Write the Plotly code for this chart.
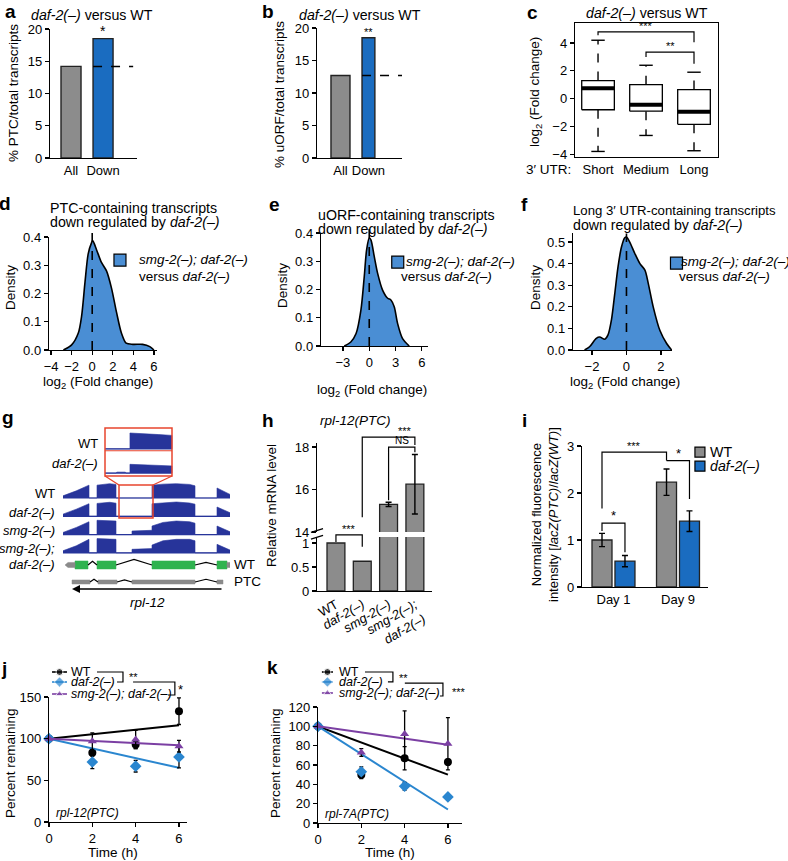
import plotly.graph_objects as go

W, H = 788, 861
FONT = "Liberation Sans"
BLUE_BAR = "#1a6cc0"
GREY_BAR = "#8c8c8c"
DENS_BLUE = "#4a8ed4"
TRACK_BLUE = "#27349a"
GREEN = "#2fb34f"
RED = "#e8452e"
J_BLUE = "#2a86cf"
PURPLE = "#7b3fa3"
TICK = 13
TXT = 13.5
TITLE = 14.2

# ---------------- data ----------------
a_labels = ["All", "Down"]
a_values = [14.2, 18.5]

b_labels = ["All", "Down"]
b_values = [12.7, 18.5]

c_labels = ["Short", "Medium", "Long"]
c_whisker_low = [-3.8, -2.65, -3.75]
c_q1 = [-0.8, -0.9, -1.85]
c_median = [0.75, -0.45, -0.95]
c_q3 = [1.3, 1.0, 0.65]
c_whisker_high = [4.2, 2.4, 1.9]

d_x = [-2.8, -2.0, -1.35, -1.03, -0.7, -0.39, -0.06, 0.05, 0.42, 0.9, 1.39, 1.87, 2.35, 2.84, 3.3, 3.97, 4.9, 5.6, 6.0]
d_y = [0, 0.018, 0.06, 0.12, 0.24, 0.34, 0.38, 0.387, 0.355, 0.31, 0.28, 0.22, 0.136, 0.06, 0.024, 0.02, 0.02, 0.012, 0]

e_x = [-2.85, -2.1, -1.5, -0.95, -0.57, -0.3, 0.0, 0.19, 0.57, 0.95, 1.52, 2.1, 2.47, 2.85, 3.23, 3.8, 4.56]
e_y = [0, 0.014, 0.044, 0.127, 0.245, 0.34, 0.382, 0.376, 0.317, 0.258, 0.198, 0.169, 0.163, 0.139, 0.08, 0.026, 0]

f_x = [-2.43, -2.14, -1.75, -1.55, -1.26, -1.07, -0.87, -0.68, -0.49, -0.29, -0.1, 0.0, 0.19, 0.49, 0.78, 1.07, 1.26, 1.55, 1.94, 2.33, 2.62]
f_y = [0, 0.015, 0.054, 0.06, 0.05, 0.07, 0.14, 0.26, 0.385, 0.477, 0.52, 0.523, 0.5, 0.446, 0.4, 0.37, 0.31, 0.2, 0.09, 0.03, 0]

# g: genome browser schematic (bp coordinates, relative coverage)
g_track_labels = ["WT", "<i>daf-2(–)</i>", "<i>smg-2(–)</i>", "<i>smg-2(–);</i>"]
g_cov_x = [0, 0, 40, 78, 78, 102, 102, 120, 140, 159, 159, 207, 207, 267, 267, 300, 340, 380, 396, 396, 462, 462, 501, 501]
g_cov_wt = [0, 0.15, 0.5, 0.9, 0, 0, 0.9, 0.95, 1.0, 0.95, 0, 0, 0, 0, 0.9, 0.97, 1.0, 0.95, 0.85, 0, 0, 0.7, 0.25, 0]
g_cov_daf = [0, 0.15, 0.5, 0.88, 0, 0, 0.9, 0.95, 0.98, 0.92, 0, 0, 0, 0, 0.88, 0.95, 1.0, 0.93, 0.85, 0, 0, 0.65, 0.25, 0]
g_cov_smg = [0, 0.15, 0.5, 0.9, 0, 0, 1.0, 1.0, 1.0, 0.95, 0, 0, 0.25, 0.3, 0.6, 0.85, 0.95, 0.9, 0.8, 0, 0, 0.6, 0.2, 0]
g_cov_smgdaf = [0, 0.15, 0.5, 0.95, 0, 0, 1.0, 1.0, 1.0, 0.95, 0, 0, 0.25, 0.3, 0.55, 0.85, 0.95, 0.95, 0.85, 0, 0, 0.6, 0.2, 0]
g_inset_x = [168, 185, 186, 199, 200, 206, 206, 230, 250, 270]
g_inset_wt = [0, 0, 0, 0, 0, 0, 1.0, 0.92, 0.9, 0.85]
g_inset_daf = [0, 0, 0.06, 0.06, 0, 0, 0.55, 0.5, 0.48, 0.45]
g_zoom_region = [168, 270]
g_gene_exons = [(36, 75), (102, 159), (267, 396), (462, 492)]
g_gene_utrs = [(6, 36), (492, 501)]
g_ptc_exons = [(27, 81), (105, 162), (207, 396), (462, 480)]

h_labels = ["WT", "<i>daf-2(–)</i>", "<i>smg-2(–)</i>", "<i>smg-2(–);<br>daf-2(–)</i>"]
h_values = [1.0, 0.62, 15.3, 16.25]
h_errors = [0, 0, 0.1, 1.4]

i_groups = ["Day 1", "Day 9"]
i_wt = [1.0, 2.23]
i_wt_err = [0.14, 0.28]
i_daf = [0.55, 1.4]
i_daf_err = [0.12, 0.22]

time_h = [0, 2, 4, 6]
fit_t = [0, 6]
j_wt = [100, 83, 93, 133]
j_wt_err = [0, 4, 5, 16]
j_daf = [100, 72, 67, 78]
j_daf_err = [0, 8, 7, 13]
j_smg = [100, 97, 99, 91]
j_smg_err = [0, 10, 11, 7]
j_wt_fit = [100, 116]
j_daf_fit = [100, 65]
j_smg_fit = [100, 92]

k_wt = [100, 50, 67, 63]
k_wt_err = [0, 4, 12, 3]
k_daf = [100, 53, 38, 27]
k_daf_err = [0, 5, 4, 2]
k_smg = [100, 73, 92, 82]
k_smg_err = [0, 4, 24, 27]
k_wt_fit = [100, 50]
k_daf_fit = [100, 14]
k_smg_fit = [100, 81]

legend_names = ["WT", "<i>daf-2(–)</i>", "<i>smg-2(–); daf-2(–)</i>"]

# ---------------- helpers ----------------
layout = {}
traces = []
annotations = []
shapes = []
AXBASE = dict(showgrid=False, zeroline=False, showline=True, linecolor="black", linewidth=1.2,
              ticks="outside", ticklen=4, tickwidth=1.2, tickcolor="black", automargin=False,
              tickfont=dict(size=TICK, family=FONT, color="black"), fixedrange=True)


def axes(n, xpx, ypx, xr, yr, xkw=None, ykw=None):
    s = "" if n == 1 else str(n)
    xa = dict(AXBASE, domain=[xpx[0] / W, xpx[1] / W], range=xr, anchor="y" + s)
    ya = dict(AXBASE, domain=[1 - ypx[1] / H, 1 - ypx[0] / H], range=yr, anchor="x" + s)
    if xkw:
        xa.update(xkw)
    if ykw:
        ya.update(ykw)
    layout["xaxis" + s] = xa
    layout["yaxis" + s] = ya


def overlay(n, xpx, ypx, xr, yr, ext_xpx, ext_ypx):
    """Invisible axes sharing the scale of a panel but covering a larger area
    (used for legends / significance brackets that sit outside the plot area)."""
    sx = (xr[1] - xr[0]) / (xpx[1] - xpx[0])
    sy = (yr[1] - yr[0]) / (ypx[1] - ypx[0])
    nxr = [xr[0] + (ext_xpx[0] - xpx[0]) * sx, xr[0] + (ext_xpx[1] - xpx[0]) * sx]
    nyr = [yr[0] + (ypx[1] - ext_ypx[1]) * sy, yr[0] + (ypx[1] - ext_ypx[0]) * sy]
    layout["xaxis%d" % n] = dict(domain=[ext_xpx[0] / W, ext_xpx[1] / W], range=nxr, visible=False,
                                 anchor="y%d" % n, fixedrange=True, automargin=False)
    layout["yaxis%d" % n] = dict(domain=[1 - ext_ypx[1] / H, 1 - ext_ypx[0] / H], range=nyr, visible=False,
                                 anchor="x%d" % n, fixedrange=True, automargin=False)
    return "x%d" % n, "y%d" % n


def pann(text, px, py, size=TXT, xa="center", ya="middle", angle=0, bold=False):
    if bold:
        text = "<b>" + text + "</b>"
    annotations.append(dict(text=text, x=px / W, y=1 - py / H, xref="paper", yref="paper",
                            showarrow=False, xanchor=xa, yanchor=ya, textangle=angle,
                            font=dict(size=size, family=FONT, color="black")))


def dann(text, x, y, xr, yr, size=12, xa="center", ya="bottom", yshift=-2, align="center"):
    annotations.append(dict(text=text, x=x, y=y, xref=xr, yref=yr, showarrow=False, align=align,
                            xanchor=xa, yanchor=ya, yshift=yshift,
                            font=dict(size=size, family=FONT, color="black")))


def line(xs, ys, xr, yr, color="black", width=1.2, dash=None):
    traces.append(go.Scatter(x=xs, y=ys, mode="lines", xaxis=xr, yaxis=yr,
                             line=dict(color=color, width=width, dash=dash), cliponaxis=False,
                             hoverinfo="skip"))


# ---------------- panel a ----------------
axes(1, (50, 137), (29, 158), [-0.656, 2.06], [0, 20],
     xkw=dict(ticks="", tickvals=[0, 1], ticktext=a_labels),
     ykw=dict(tickvals=[0, 5, 10, 15, 20]))
traces.append(go.Bar(x=[0, 1], y=a_values, width=0.625, xaxis="x", yaxis="y",
                     marker=dict(color=[GREY_BAR, BLUE_BAR], line=dict(color="#222", width=1.4))))
line([1 - 0.3125, 1.94], [a_values[0], a_values[0]], "x", "y", dash="dash", width=1.5)
dann("*", 1, a_values[1], "x", "y", size=14)
pann("a", 10, 11, size=19, bold=True)
pann("<i>daf-2(–)</i> versus WT", 92, 15, size=TITLE)
pann("% PTC/total transcripts", 13, 93, angle=-90)

# ---------------- panel b ----------------
axes(2, (317, 402), (28, 158), [-0.84, 2.2], [0, 20],
     xkw=dict(ticks="", tickvals=[0, 1], ticktext=b_labels),
     ykw=dict(tickvals=[0, 5, 10, 15, 20]))
traces.append(go.Bar(x=[0, 1], y=b_values, width=[0.68, 0.46], xaxis="x2", yaxis="y2",
                     marker=dict(color=[GREY_BAR, BLUE_BAR], line=dict(color="#222", width=1.4))))
line([1 - 0.23, 2.2], [b_values[0], b_values[0]], "x2", "y2", dash="dash", width=1.5)
dann("**", 1, b_values[1], "x2", "y2", size=11)
pann("b", 268, 11, size=19, bold=True)
pann("<i>daf-2(–)</i> versus WT", 360, 15, size=TITLE)
pann("% uORF/total transcripts", 280, 95, angle=-90)

# ---------------- panel c ----------------
axes(3, (575, 718), (23, 157), [0.52, 3.5], [-4.2, 5.44],
     xkw=dict(ticks="", tickvals=[1, 2, 3], ticktext=c_labels, mirror=True),
     ykw=dict(tickvals=[-4, -2, 0, 2, 4], mirror=True))
bw, cw = 0.34, 0.14
bx, by, mx, my, wx, wy, kx, ky = [], [], [], [], [], [], [], []
for i in range(3):
    p = i + 1
    bx += [p - bw, p + bw, p + bw, p - bw, p - bw, None]
    by += [c_q1[i], c_q1[i], c_q3[i], c_q3[i], c_q1[i], None]
    mx += [p - bw, p + bw, None]
    my += [c_median[i], c_median[i], None]
    wx += [p, p, None, p, p, None]
    wy += [c_q3[i], c_whisker_high[i], None, c_q1[i], c_whisker_low[i], None]
    kx += [p - cw, p + cw, None, p - cw, p + cw, None]
    ky += [c_whisker_high[i], c_whisker_high[i], None, c_whisker_low[i], c_whisker_low[i], None]
line(wx, wy, "x3", "y3", dash="dash", width=1.4)
line(kx, ky, "x3", "y3", width=1.4)
traces.append(go.Scatter(x=bx, y=by, mode="lines", fill="toself", fillcolor="white", xaxis="x3", yaxis="y3",
                         line=dict(color="black", width=1.3), hoverinfo="skip"))
line(mx, my, "x3", "y3", width=4)
line([1, 1, 3, 3], [4.55, 4.8, 4.8, 4.05], "x3", "y3")
line([2, 2, 3, 3], [3.0, 3.35, 3.35, 2.5], "x3", "y3")
dann("***", 2, 4.8, "x3", "y3", size=11)
dann("**", 2.5, 3.35, "x3", "y3", size=11)
pann("c", 532, 13, size=19, bold=True)
pann("<i>daf-2(–)</i> versus WT", 647, 13, size=TITLE)
pann("3′ UTR:", 573, 170, xa="right")
pann("log<sub>2</sub> (Fold change)", 535, 92, angle=-90)


# ---------------- panels d, e, f ----------------
def density_panel(n, ov, xs, ys, xpx, ypx, xr, yr, xt, yt, top, ext_x, leg_xy):
    s = str(n)
    axes(n, xpx, ypx, xr, yr, xkw=dict(tickvals=xt), ykw=dict(tickvals=yt, tickformat=".1f"))
    traces.append(go.Scatter(x=xs, y=ys, mode="lines", fill="tozeroy", fillcolor=DENS_BLUE,
                             line=dict(color="black", width=1.6, shape="spline", smoothing=0.8),
                             xaxis="x" + s, yaxis="y" + s, hoverinfo="skip"))
    ox, oy = overlay(ov, xpx, ypx, xr, yr, (xpx[0], ext_x), (ypx[0] - 6, ypx[1]))
    line([0, 0], [0, top], ox, oy, dash="dash", width=1.6)
    traces.append(go.Scatter(x=[leg_xy[0]], y=[leg_xy[1]], mode="markers", xaxis=ox, yaxis=oy,
                             marker=dict(symbol="square", size=12, color=DENS_BLUE,
                                         line=dict(color="black", width=1.2)),
                             cliponaxis=False, hoverinfo="skip"))


def density_legend_text(x1, x2, y1, y2):
    pann("<i>smg-2(–); daf-2(–)</i>", x1, y1, size=13.5, xa="left")
    pann("versus <i>daf-2(–)</i>", x2, y2, size=13.5, xa="left")


density_panel(4, 20, d_x, d_y, (49, 157), (237, 350), [-4.2, 6.3], [0, 0.4], [-4, -2, 0, 2, 4, 6],
              [0, 0.1, 0.2, 0.3, 0.4], 0.415, 270, (2.7, 0.318))
density_legend_text(137, 137, 260, 276)
pann("d", 5, 203, size=19, bold=True)
pann("PTC-containing transcripts", 48, 208, size=TITLE, xa="left")
pann("down regulated by <i>daf-2(–)</i>", 48, 222, size=TITLE, xa="left")
pann("Density", 10, 288, angle=-90)
pann("log<sub>2</sub> (Fold change)", 98, 382)

density_panel(5, 21, e_x, e_y, (321, 428), (233, 346), [-5.5, 6.7], [0, 0.4], [-3, 0, 3, 6],
              [0, 0.1, 0.2, 0.3, 0.4], 0.415, 530, (3.25, 0.297))
density_legend_text(404, 399, 262, 276)
pann("e", 274, 204, size=19, bold=True)
pann("uORF-containing transcripts", 316, 215, size=TITLE, xa="left")
pann("down regulated by <i>daf-2(–)</i>", 316, 229, size=TITLE, xa="left")
pann("Density", 283, 286, angle=-90)
pann("log<sub>2</sub> (Fold change)", 372, 390)

density_panel(6, 22, f_x, f_y, (573, 672), (233, 350), [-3.1, 2.64], [0, 0.542], [-2, 0, 2],
              [0, 0.1, 0.2, 0.3, 0.4, 0.5], 0.54, 788, (2.9, 0.402))
density_legend_text(679, 677, 262, 276)
pann("f", 524, 204, size=19, bold=True)
pann("Long 3′ UTR-containing transcripts", 571, 210, size=13.2, xa="left")
pann("down regulated by <i>daf-2(–)</i>", 571, 225, size=TITLE, xa="left")
pann("Density", 535, 288, angle=-90)
pann("log<sub>2</sub> (Fold change)", 625, 382)

# ---------------- panel g ----------------
layout["xaxis7"] = dict(domain=[63 / W, 230 / W], range=[0, 501], visible=False, anchor="y7", fixedrange=True)
layout["yaxis7"] = dict(domain=[1 - 610 / H, 1 - 420 / H], range=[10.38, 0], visible=False, anchor="x7", fixedrange=True)
TRACK_H = 0.78
ROW_PX = 18.3
G_TXT = 13
first_base = 4.26
covs = [g_cov_wt, g_cov_daf, g_cov_smg, g_cov_smgdaf]
for ti, cov in enumerate(covs):
    base = first_base + ti
    traces.append(go.Scatter(x=g_cov_x, y=[base - v * TRACK_H for v in cov], mode="lines", fill="toself",
                             fillcolor=TRACK_BLUE, line=dict(color=TRACK_BLUE, width=0.6),
                             xaxis="x7", yaxis="y7", hoverinfo="skip"))
    line([0, 501], [base, base], "x7", "y7", color=TRACK_BLUE, width=1.2)
    pann(g_track_labels[ti], 57, 420 + base * ROW_PX - 4, size=G_TXT, xa="right")
gene_row = first_base + 3.66
pann("<i>daf-2(–)</i>", 57, 420 + gene_row * ROW_PX, size=G_TXT, xa="right")

inset_x0, inset_x1 = 126, 327
inset_top, inset_bot = 0.44, 3.06
zr0, zr1 = g_zoom_region


def to_inset(g):
    return inset_x0 + (g - zr0) * (inset_x1 - inset_x0) / (zr1 - zr0)


INSET_H = 0.87
for base, cov in [(1.58, g_inset_wt), (2.9, g_inset_daf)]:
    xs = [to_inset(g) for g in g_inset_x]
    traces.append(go.Scatter(x=xs + [xs[-1]], y=[base - v * INSET_H for v in cov] + [base], mode="lines",
                             fill="toself", fillcolor=TRACK_BLUE, line=dict(color=TRACK_BLUE, width=0.6),
                             xaxis="x7", yaxis="y7", hoverinfo="skip"))
    line([inset_x0, inset_x1], [base, base], "x7", "y7", color=TRACK_BLUE, width=1.2)
shapes.append(dict(type="rect", xref="x7", yref="y7", x0=inset_x0, x1=inset_x1, y0=inset_top, y1=inset_bot,
                   line=dict(color=RED, width=1.5)))
shapes.append(dict(type="line", xref="x7", yref="y7", x0=inset_x0, x1=inset_x1, y0=1.68, y1=1.68,
                   line=dict(color=RED, width=1.2)))
box_top, box_bot = 3.55, 5.36
shapes.append(dict(type="rect", xref="x7", yref="y7", x0=zr0, x1=zr1, y0=box_top, y1=box_bot,
                   line=dict(color=RED, width=1.5)))
line([inset_x0, zr0, None, inset_x1, zr1], [inset_bot, box_top, None, inset_bot, box_top], "x7", "y7",
     color=RED, width=1.3)
pann("WT", 100, 443, size=G_TXT, xa="right")
pann("<i>daf-2(–)</i>", 100, 463, size=G_TXT, xa="right")


def model(row, exons, color, hh, peaks):
    ex, ey = [], []
    for (a0, a1) in exons:
        ex += [a0, a1, a1, a0, a0, None]
        ey += [row - hh, row - hh, row + hh, row + hh, row - hh, None]
    traces.append(go.Scatter(x=ex, y=ey, mode="lines", fill="toself", fillcolor=color,
                             line=dict(color=color, width=0.5), xaxis="x7", yaxis="y7", hoverinfo="skip"))
    cx, cy = [], []
    for k in range(len(exons) - 1):
        e0, e1 = exons[k][1], exons[k + 1][0]
        cx += [e0, (e0 + e1) / 2, e1, None]
        cy += [row, row - peaks[k], row, None]
    line(cx, cy, "x7", "y7", color="black", width=1.2)


model(gene_row, g_gene_exons, GREEN, 0.22, [0.2, 0.3, 0.14])
hh = 0.14
u0, u1 = g_gene_utrs[0]
utr_x = [u0, u0 + 9, u1, u1, u0 + 9, u0, None]
utr_y = [gene_row, gene_row - hh, gene_row - hh, gene_row + hh, gene_row + hh, gene_row, None]
u0, u1 = g_gene_utrs[1]
utr_x += [u0, u1, u1, u0, u0, None]
utr_y += [gene_row - hh, gene_row - hh, gene_row + hh, gene_row + hh, gene_row - hh, None]
traces.append(go.Scatter(x=utr_x, y=utr_y, mode="lines", fill="toself", fillcolor="#8a8a8a",
                         line=dict(color="#8a8a8a", width=0.5), xaxis="x7", yaxis="y7", hoverinfo="skip"))
ptc_row = gene_row + 0.93
model(ptc_row, g_ptc_exons, "#8a8a8a", 0.11, [0.15, 0.12, 0.15])
pann("WT", 232, 420 + gene_row * ROW_PX, xa="left")
pann("PTC", 232, 420 + ptc_row * ROW_PX, xa="left")
arrow_row = ptc_row + 0.38
annotations.append(dict(x=g_ptc_exons[0][0], y=arrow_row, ax=g_ptc_exons[-1][1], ay=arrow_row,
                        xref="x7", yref="y7", axref="x7", ayref="y7", showarrow=True, text="",
                        arrowhead=2, arrowsize=1, arrowwidth=1.6, arrowcolor="black"))
dann("<i>rpl-12</i>", 252, arrow_row + 0.72, "x7", "y7", size=TXT, ya="middle", yshift=0)
pann("g", 8, 417, size=19, bold=True)

# ---------------- panel h ----------------
H_XPX, H_XR = (317, 432), [-0.72, 3.65]
H_LO_PX, H_LO_R = (537, 591), [0, 1.125]
H_UP_PX, H_UP_R = (443, 532), [14, 18.19]
axes(8, H_XPX, H_LO_PX, H_XR, H_LO_R,
     xkw=dict(ticks="", tickvals=[0, 1, 2, 3], ticktext=h_labels, tickangle=-30),
     ykw=dict(tickvals=[0, 0.5, 1], ticktext=["0", "0.5", "1"]))
layout["yaxis9"] = dict(AXBASE, domain=[1 - H_UP_PX[1] / H, 1 - H_UP_PX[0] / H], range=H_UP_R, anchor="x8",
                        tickvals=[14, 16, 18])
hx = list(range(len(h_values)))
traces.append(go.Bar(x=hx, y=h_values, width=0.68, xaxis="x8", yaxis="y8",
                     marker=dict(color=GREY_BAR, line=dict(color="#222", width=1.3))))
traces.append(go.Bar(x=hx, y=h_values, width=0.68, xaxis="x8", yaxis="y9",
                     marker=dict(color=GREY_BAR, line=dict(color="#222", width=1.3)),
                     error_y=dict(type="data", array=h_errors, color="black", thickness=1.4, width=3)))
lox, loy = overlay(13, H_XPX, H_LO_PX, H_XR, H_LO_R, (295, 440), (505, 600))
upx, upy = overlay(14, H_XPX, H_UP_PX, H_XR, H_UP_R, (295, 440), (425, 545))
line([0, 0, 1, 1], [1.02, 1.17, 1.17, 0.92], lox, loy)
dann("***", 0.5, 1.17, lox, loy, size=11)
line([1, 1, 3, 3], [14.7, 18.47, 18.47, 18.1], upx, upy)
line([2, 2, 3, 3], [15.5, 18.0, 18.0, 17.76], upx, upy)
dann("***", 2.62, 18.47, upx, upy, size=11)
dann("NS", 2.5, 18.0, upx, upy, size=10, yshift=-1)
line([-0.95, -0.49], [13.98, 14.16], upx, upy, width=1.2)
line([-0.95, -0.49], [1.08, 1.16], lox, loy, width=1.2)
pann("h", 268, 420, size=19, bold=True)
pann("<i>rpl-12(PTC)</i>", 355, 420)
pann("Relative mRNA level", 272, 506, angle=-90)

# ---------------- panel i ----------------
off = 0.178
axes(10, (582, 708), (446, 587), [-0.488, 1.465], [0, 3],
     xkw=dict(ticks="", tickvals=[0, 1], ticktext=i_groups),
     ykw=dict(tickvals=[0, 1, 2, 3]))
iox, ioy = overlay(15, (582, 708), (446, 587), [-0.488, 1.465], [0, 3], (582, 788), (430, 587))
gx = list(range(len(i_groups)))
traces.append(go.Bar(x=[g - off for g in gx], y=i_wt, width=0.31, xaxis="x10", yaxis="y10",
                     marker=dict(color=GREY_BAR, line=dict(color="#222", width=1.3)),
                     error_y=dict(type="data", array=i_wt_err, color="black", thickness=1.4, width=3)))
traces.append(go.Bar(x=[g + off for g in gx], y=i_daf, width=0.31, xaxis="x10", yaxis="y10",
                     marker=dict(color=BLUE_BAR, line=dict(color="#222", width=1.3)),
                     error_y=dict(type="data", array=i_daf_err, color="black", thickness=1.4, width=3)))
line([-off, -off, off, off], [1.19, 1.36, 1.36, 0.74], iox, ioy)
dann("*", 0, 1.36, iox, ioy, size=13)
line([-off, -off, 1 - off, 1 - off], [1.67, 2.87, 2.87, 2.69], iox, ioy)
dann("***", 0.32, 2.87, iox, ioy, size=11)
line([1 - off, 1 + off, 1 + off], [2.69, 2.69, 1.87], iox, ioy)
dann("*", 1.0, 2.69, iox, ioy, size=13)
traces.append(go.Scatter(x=[1.34, 1.34], y=[2.87, 2.57], mode="markers", xaxis=iox, yaxis=ioy,
                         marker=dict(symbol="square", size=10, color=[GREY_BAR, BLUE_BAR],
                                     line=dict(color="black", width=1.2)), cliponaxis=False, hoverinfo="skip"))
dann("WT", 1.46, 2.87, iox, ioy, size=TITLE, xa="left", ya="middle", yshift=0)
dann("<i>daf-2(–)</i>", 1.46, 2.57, iox, ioy, size=TITLE, xa="left", ya="middle", yshift=0)
pann("i", 524, 420, size=19, bold=True)
pann("Normalized fluorescence<br>intensity [<i>lacZ(PTC)</i>/<i>lacZ(WT)</i>]", 545, 515, size=13, angle=-90)


# ---------------- panels j, k ----------------
def decay_panel(n, ov, xpx, ypx, xr, yr, yt, series, fits, ext_x, ext_top, leg_x, leg_rows, text_x):
    s = str(n)
    axes(n, xpx, ypx, xr, yr, xkw=dict(tickvals=[0, 2, 4, 6]), ykw=dict(tickvals=yt))
    ox, oy = overlay(ov, xpx, ypx, xr, yr, ext_x, (ext_top, ypx[1]))
    for (vals, errs, color, sym, size), fit in zip(series, fits):
        traces.append(go.Scatter(x=fit_t, y=fit, mode="lines", line=dict(color=color, width=2),
                                 xaxis="x" + s, yaxis="y" + s, hoverinfo="skip"))
        traces.append(go.Scatter(x=time_h, y=vals, mode="markers", xaxis="x" + s, yaxis="y" + s,
                                 marker=dict(symbol=sym, size=size, color=color),
                                 error_y=dict(type="data", array=errs, color="black", thickness=1.3, width=2),
                                 cliponaxis=False, hoverinfo="skip"))
    for (vals, errs, color, sym, size), r, name in zip(series, leg_rows, legend_names):
        traces.append(go.Scatter(x=[leg_x[0], (leg_x[0] + leg_x[1]) / 2, leg_x[1]], y=[r, r, r],
                                 mode="lines+markers", line=dict(color=color, width=1.6),
                                 marker=dict(symbol=sym, size=[0, size - 1, 0], color=color),
                                 xaxis=ox, yaxis=oy, cliponaxis=False, hoverinfo="skip"))
        dann(name, text_x, r, ox, oy, size=12.5, xa="left", ya="middle", yshift=0)
    return ox, oy


jx, jy = decay_panel(11, 16, (49, 187), (697, 822), [0, 6.37], [0, 150], [0, 50, 100, 150],
                     [(j_wt, j_wt_err, "black", "circle", 8), (j_daf, j_daf_err, J_BLUE, "diamond", 9),
                      (j_smg, j_smg_err, PURPLE, "triangle-up", 8)],
                     [j_wt_fit, j_daf_fit, j_smg_fit], (40, 205), 655, (0.14, 0.83), [180, 168, 153.6], 0.92)
line([2.215, 3.415, 3.415, 3.14], [180, 180, 168, 168], jx, jy)
dann("**", 3.88, 174, jx, jy, size=11, ya="middle", yshift=0)
line([3.88, 5.81, 5.81, 5.49], [168, 168, 152.4, 152.4], jx, jy)
dann("*", 6.05, 159, jx, jy, size=13, ya="middle", yshift=0)
dann("<i>rpl-12(PTC)</i>", 0.25, 11, "x11", "y11", size=12, xa="left", ya="middle", yshift=0)
pann("j", 4, 668, size=19, bold=True)
pann("Percent remaining", 10, 763, angle=-90)
pann("Time (h)", 113, 852)

kx_, ky_ = decay_panel(12, 17, (318, 462), (707, 823), [0, 6.65], [0, 120], [0, 20, 40, 60, 80, 100, 120],
                       [(k_wt, k_wt_err, "black", "circle", 8), (k_daf, k_daf_err, J_BLUE, "diamond", 9),
                        (k_smg, k_smg_err, PURPLE, "triangle-up", 8)],
                       [k_wt_fit, k_daf_fit, k_smg_fit], (310, 480), 660, (0.18, 0.69), [156.2, 145.9, 134.5], 0.88)
line([2.17, 3.46, 3.46, 3.23], [156.2, 156.2, 145.9, 145.9], kx_, ky_)
dann("**", 3.95, 150.5, kx_, ky_, size=11, ya="middle", yshift=0)
line([4.01, 5.77, 5.77, 5.63], [144.8, 144.8, 131.4, 131.4], kx_, ky_)
dann("***", 6.5, 135.5, kx_, ky_, size=11, ya="middle", yshift=0)
dann("<i>rpl-7A(PTC)</i>", 0.25, 9, "x12", "y12", size=12, xa="left", ya="middle", yshift=0)
pann("k", 272, 667, size=19, bold=True)
pann("Percent remaining", 275, 763, angle=-90)
pann("Time (h)", 390, 852)

# ---------------- figure ----------------
fig = go.Figure(data=traces)
fig.update_layout(template="none")
fig.update_layout(**layout)
fig.update_layout(width=W, height=H, margin=dict(l=0, r=0, t=0, b=0, pad=0), showlegend=False,
                  paper_bgcolor="white", plot_bgcolor="rgba(0,0,0,0)", barmode="overlay",
                  font=dict(family=FONT, size=TXT, color="black"),
                  annotations=annotations, shapes=shapes)
fig.write_html("out.html", config={"displayModeBar": False, "staticPlot": True},
               post_script="document.body.style.margin='0';document.body.style.padding='0';"
                           "document.body.style.overflow='hidden';")
